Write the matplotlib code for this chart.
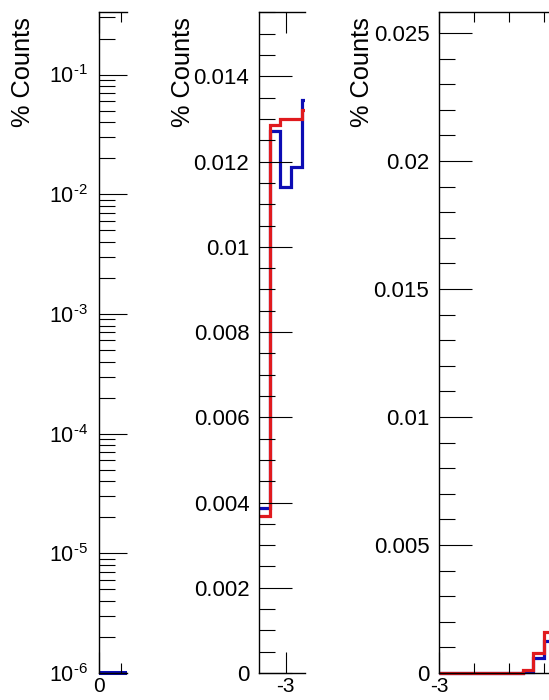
import matplotlib
matplotlib.use('Agg')
import matplotlib.pyplot as plt
import numpy as np
from matplotlib.transforms import Bbox, TransformedBbox
from matplotlib.ticker import FixedLocator, NullFormatter

plt.rcParams['font.family'] = ['Liberation Sans', 'DejaVu Sans']
plt.rcParams['mathtext.fontset'] = 'custom'
plt.rcParams['mathtext.rm'] = 'Liberation Sans'
plt.rcParams['mathtext.it'] = 'Liberation Sans:italic'
plt.rcParams['mathtext.bf'] = 'Liberation Sans:bold'

# ---------------- data ----------------
ylabel_text = "% Counts"

# panel 1 (log scale, only empty bins visible)
p1_edges = [0.0, 0.1, 0.2, 0.3]
p1_blue = [0.0, 0.0, 0.0]
p1_yticks = [1e-6, 1e-5, 1e-4, 1e-3, 1e-2, 1e-1]
p1_exponents = ['6', '5', '4', '3', '2', '1']
p1_xticks = [0.0]
p1_xticklabels = ['0']
p1_xminor = [0.2]

# panel 2
p2_edges = [-3.25, -3.15, -3.05, -2.95, -2.85, -2.75]
p2_blue = [0.00386, 0.01272, 0.01140, 0.01188, 0.01344]
p2_red = [0.00369, 0.01287, 0.01300, 0.01300, 0.01322]
p2_yticks = [0, 0.002, 0.004, 0.006, 0.008, 0.010, 0.012, 0.014]
p2_yticklabels = ['0', '0.002', '0.004', '0.006', '0.008', '0.01', '0.012', '0.014']
p2_yminor = [0.0005, 0.001, 0.0015, 0.0025, 0.003, 0.0035, 0.0045, 0.005, 0.0055,
             0.0065, 0.007, 0.0075, 0.0085, 0.009, 0.0095, 0.0105, 0.011, 0.0115,
             0.0125, 0.013, 0.0135, 0.0145, 0.015, 0.0155]
p2_xticks = [-3.0]
p2_xticklabels = ['-3']

# panel 3
p3_edges = [-3.0, -2.94, -2.88, -2.82, -2.76, -2.70, -2.64, -2.58, -2.52, -2.46, -2.40, -2.34]
p3_blue = [0, 0, 0, 0, 0, 0, 0, 0, 0.00004, 0.00059, 0.00125]
p3_red = [0, 0, 0, 0, 0, 0, 0, 0, 0.00010, 0.00078, 0.00160]
p3_yticks = [0, 0.005, 0.010, 0.015, 0.020, 0.025]
p3_yticklabels = ['0', '0.005', '0.01', '0.015', '0.02', '0.025']
p3_yminor = [0.001, 0.002, 0.003, 0.004, 0.006, 0.007, 0.008, 0.009, 0.011, 0.012,
             0.013, 0.014, 0.016, 0.017, 0.018, 0.019, 0.021, 0.022, 0.023, 0.024]
p3_xticks = [-3.0]
p3_xticklabels = ['-3']
p3_xminor = [-2.8, -2.6, -2.4]

BLUE = '#0c0cb4'
RED = '#e01a1e'
LW = 2.3
TICKFS = 16.0
XTICKFS = 15.0

W, H = 549, 700
fig = plt.figure(figsize=(W / 100, H / 100), dpi=100)
fig.patch.set_facecolor('white')


def rect(x0, x1, ytop=12, ybot=673):
    return [x0 / W, 1 - ybot / H, (x1 - x0) / W, (ybot - ytop) / H]


def style(ax, ymajor_len=23.8, ypad=7.0):
    ax.spines['right'].set_visible(False)
    for s in ['left', 'top', 'bottom']:
        ax.spines[s].set_linewidth(1.0)
        ax.spines[s].set_color('black')
    ax.tick_params(axis='y', which='major', direction='in', length=ymajor_len, width=0.8,
                   pad=ypad, labelsize=TICKFS, left=True, right=False)
    ax.tick_params(axis='y', which='minor', direction='in', length=11.5, width=0.8,
                   left=True, right=False)
    ax.tick_params(axis='x', which='major', direction='in', length=15, width=0.8,
                   pad=2.6, labelsize=XTICKFS, top=True, bottom=True)
    ax.tick_params(axis='x', which='minor', direction='in', length=7.2, width=0.8,
                   top=True, bottom=True)


def loose_clip(artist, ax):
    artist.set_clip_on(True)
    artist.set_clip_box(TransformedBbox(Bbox([[0, -0.02], [1, 1]]), ax.transAxes))


# ---------------- panel 1 ----------------
ax1 = fig.add_axes(rect(99, 127))
ax1.set_yscale('log')
ax1.set_xlim(0, 0.255)
ax1.set_ylim(1e-6, 0.333)
vals = np.maximum(np.array(p1_blue), 1e-6)
st = ax1.stairs(vals, p1_edges, baseline=None, color=BLUE, linewidth=LW + 0.6)
loose_clip(st, ax1)
ax1.set_yticks(p1_yticks)
try:
    labs = [r'$\mathregular{10^{\text{-}%s}}$' % e for e in p1_exponents]
    ax1.set_yticklabels(labs)
    fig.canvas.draw()
except Exception:
    labs = [r'$\mathregular{10^{-%s}}$' % e for e in p1_exponents]
    ax1.set_yticklabels(labs)
ax1.yaxis.set_minor_locator(matplotlib.ticker.LogLocator(base=10, subs=np.arange(2, 10)))
ax1.yaxis.set_minor_formatter(NullFormatter())
ax1.set_xticks(p1_xticks)
ax1.set_xticklabels(p1_xticklabels)
ax1.xaxis.set_minor_locator(FixedLocator(p1_xminor))
style(ax1, ymajor_len=20.2, ypad=8.0)
ax1.tick_params(axis='y', which='major', labelsize=15.5)

# ---------------- panel 2 ----------------
ax2 = fig.add_axes(rect(259, 305))
ax2.set_xlim(-3.25, -2.82)
ax2.set_ylim(0, 0.01551)
ax2.stairs(p2_blue, p2_edges, baseline=None, color=BLUE, linewidth=LW)
ax2.stairs(p2_red, p2_edges, baseline=None, color=RED, linewidth=LW)
ax2.set_yticks(p2_yticks)
ax2.set_yticklabels(p2_yticklabels)
ax2.yaxis.set_minor_locator(FixedLocator(p2_yminor))
ax2.set_xticks(p2_xticks)
ax2.set_xticklabels(p2_xticklabels)
style(ax2)

# ---------------- panel 3 ----------------
ax3 = fig.add_axes(rect(439, 549))
ax3.set_xlim(-3.0, -2.3714)
ax3.set_ylim(0, 0.02582)
s1 = ax3.stairs(p3_blue, p3_edges, baseline=None, color=BLUE, linewidth=LW)
s2 = ax3.stairs(p3_red, p3_edges, baseline=None, color=RED, linewidth=LW)
loose_clip(s1, ax3)
loose_clip(s2, ax3)
ax3.set_yticks(p3_yticks)
ax3.set_yticklabels(p3_yticklabels)
ax3.yaxis.set_minor_locator(FixedLocator(p3_yminor))
ax3.set_xticks(p3_xticks)
ax3.set_xticklabels(p3_xticklabels)
ax3.xaxis.set_minor_locator(FixedLocator(p3_xminor))
style(ax3)

# y titles
for xc in (23, 183, 362):
    fig.text(xc / W, 1 - 17 / H, ylabel_text, rotation=90, ha='center', va='top',
             fontsize=18.3, color='black')

fig.savefig('out.png', dpi=100, facecolor='white')
